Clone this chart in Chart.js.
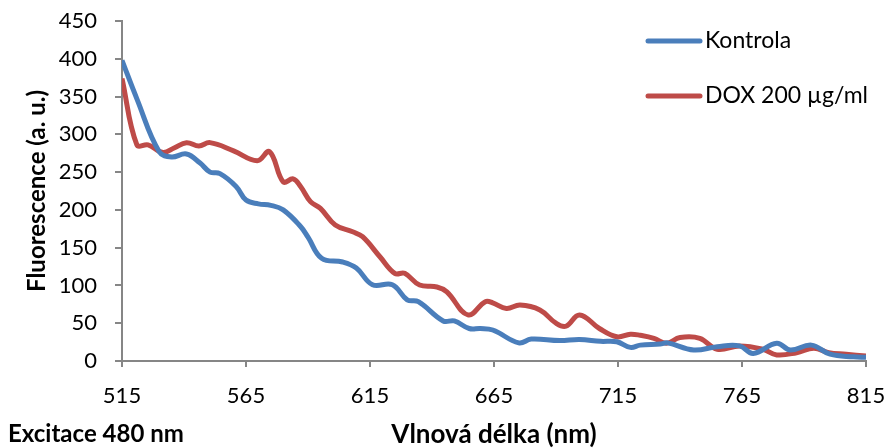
<!DOCTYPE html>
<html>
<head>
<meta charset="utf-8">
<script src="https://cdn.jsdelivr.net/npm/chart.js@4/dist/chart.umd.min.js"></script>
<style>
  html, body { margin: 0; padding: 0; background: #fff; }
  #wrap { width: 890px; height: 448px; position: relative; }
</style>
</head>
<body>
<div id="wrap"><canvas id="chart" width="890" height="448"></canvas></div>
<script>
// Emission spectra (excitation 480 nm): wavelength in nm, intensity in a. u.
const seriesNames = ['Kontrola', 'DOX 200 \u00b5g/ml'];

const kontrolaNm = [515, 521, 530, 535, 541, 546.5, 550.5, 554.5, 561, 565, 570, 575, 580, 587, 590, 595.5, 604, 609.5, 616, 624, 630, 634.5, 644.5, 649, 655, 659.5, 664.5, 675, 680, 691.5, 699.5, 708, 714.5, 720, 724, 732, 735, 745.5, 755, 764, 769.5, 779, 784.5, 793, 800.5, 810, 815];
const kontrola   = [398, 347, 277, 270, 274, 262, 250, 248, 231, 213, 208, 206, 200, 178, 164, 136, 131, 123, 101, 101, 81, 78.5, 53, 53, 43, 43, 41, 24, 29, 27, 28.5, 26, 25.5, 18, 21, 22.5, 24, 14.5, 19, 20, 10, 23.5, 14.5, 21, 9, 5.5, 5];

const doxNm = [515, 521, 525.5, 531.5, 536, 541, 546, 550.5, 560, 569.5, 574.5, 580, 584, 587, 591, 595, 601, 608, 612, 619, 625, 629, 635, 642, 646, 654.5, 661.5, 664.5, 670, 675.5, 683.5, 690, 694, 699.5, 707.5, 714.5, 720, 724, 729.5, 734.5, 740, 748, 755, 764, 773.5, 779, 787, 794, 800, 807, 815];
const dox   = [374, 286, 286, 276, 282, 289, 284.5, 289, 278, 265, 277, 237, 241, 231, 211, 202, 180, 171, 164.5, 138, 116, 116, 100.5, 98, 91.5, 61, 78.5, 77, 69.5, 74, 67.5, 50, 46, 61, 43, 32, 35.5, 34, 30, 23.5, 31, 30, 15.5, 20, 15.5, 8, 11, 17, 11, 9, 6.5];

const xTicks = [515, 565, 615, 665, 715, 765, 815];
const yTicks = [0, 50, 100, 150, 200, 250, 300, 350, 400, 450];

const seriesColors = ['#4a7ebb', '#be4b48'];
const FONT = 'Lato, "Open Sans", sans-serif';
const AXIS_GRAY = '#868686';

function toPoints(xs, ys) {
  return xs.map((x, i) => ({ x: x, y: ys[i] }));
}

// Legend drawn over the upper-right part of the plot
const sideLegend = {
  id: 'sideLegend',
  afterDraw(chart) {
    const ctx = chart.ctx;
    const rows = [41, 96];
    ctx.save();
    chart.data.datasets.forEach((ds, i) => {
      const y = rows[i];
      ctx.strokeStyle = ds.borderColor;
      ctx.lineWidth = 5;
      ctx.lineCap = 'round';
      ctx.beginPath();
      ctx.moveTo(648, y);
      ctx.lineTo(700, y);
      ctx.stroke();
      ctx.fillStyle = '#000';
      ctx.font = '23px ' + FONT;
      ctx.textBaseline = 'middle';
      ctx.textAlign = 'left';
      ctx.fillText(ds.label, 705, y);
    });
    ctx.restore();
  }
};

// Excitation note in the lower-left corner
const excitationNote = {
  id: 'excitationNote',
  afterDraw(chart) {
    const ctx = chart.ctx;
    ctx.save();
    ctx.fillStyle = '#000';
    ctx.font = 'bold 24px ' + FONT;
    ctx.textBaseline = 'middle';
    ctx.textAlign = 'left';
    ctx.fillText('Excitace 480 nm', 8, 434);
    ctx.restore();
  }
};

new Chart(document.getElementById('chart'), {
  type: 'line',
  data: {
    datasets: [
      { label: seriesNames[0], data: toPoints(kontrolaNm, kontrola), borderColor: seriesColors[0], backgroundColor: seriesColors[0] },
      { label: seriesNames[1], data: toPoints(doxNm, dox), borderColor: seriesColors[1], backgroundColor: seriesColors[1] }
    ]
  },
  options: {
    responsive: false,
    animation: false,
    layout: { padding: { top: 21, right: 24, left: 0, bottom: 0 } },
    elements: {
      line: { borderWidth: 5, tension: 0.4, capBezierPoints: true, borderJoinStyle: 'round' },
      point: { radius: 0, hoverRadius: 0 }
    },
    plugins: { legend: { display: false }, tooltip: { enabled: false } },
    scales: {
      x: {
        type: 'linear',
        min: 515,
        max: 815,
        afterBuildTicks: (s) => { s.ticks = xTicks.map(v => ({ value: v })); },
        afterFit: (s) => { s.height = 87; s.paddingLeft = 0; s.paddingRight = 0; },
        border: { color: AXIS_GRAY, width: 2 },
        grid: { drawOnChartArea: false, drawTicks: true, tickLength: 6, color: AXIS_GRAY, lineWidth: 2 },
        ticks: { color: '#000', font: { family: FONT, size: 22 }, padding: 16, maxRotation: 0 },
        title: { display: true, text: 'Vlnov\u00e1 d\u00e9lka (nm)', color: '#000', font: { family: FONT, size: 26, weight: 'bold' }, padding: { top: 0, bottom: -2 } }
      },
      y: {
        min: 0,
        max: 450,
        afterBuildTicks: (s) => { s.ticks = yTicks.map(v => ({ value: v })); },
        afterFit: (s) => { s.width = 122; s.paddingTop = 0; s.paddingBottom = 0; },
        border: { color: AXIS_GRAY, width: 2 },
        grid: { drawOnChartArea: false, drawTicks: true, tickLength: 7, color: AXIS_GRAY, lineWidth: 2 },
        ticks: { color: '#000', font: { family: FONT, size: 22 }, padding: 18 },
        title: { display: true, text: 'Fluorescence (a. u.)', color: '#000', font: { family: FONT, size: 24, weight: 'bold' }, padding: { top: 23, bottom: 0 } }
      }
    }
  },
  plugins: [sideLegend, excitationNote]
});
</script>
</body>
</html>
